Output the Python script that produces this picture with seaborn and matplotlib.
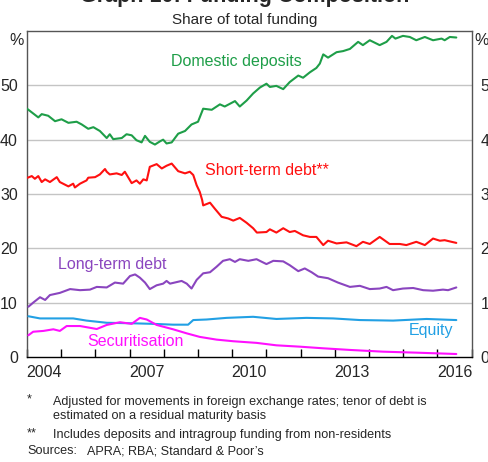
import matplotlib
matplotlib.use("Agg")
import matplotlib.pyplot as plt
import matplotlib.transforms as mtransforms
import seaborn as sns

# Data (share of total funding, %); x in decimal years
dd_t = [2004.00, 2004.33, 2004.43, 2004.62, 2004.82, 2005.01, 2005.21, 2005.45, 2005.60, 2005.79,
        2005.94, 2006.13, 2006.33, 2006.42, 2006.52, 2006.77, 2006.91, 2007.06, 2007.20, 2007.35,
        2007.45, 2007.59, 2007.74, 2007.89, 2007.98, 2008.08, 2008.23, 2008.42, 2008.62, 2008.81,
        2009.00, 2009.15, 2009.40, 2009.64, 2009.78, 2010.08, 2010.22, 2010.42, 2010.61, 2010.81,
        2011.00, 2011.10, 2011.29, 2011.49, 2011.68, 2011.93, 2012.07, 2012.27, 2012.46, 2012.56,
        2012.66, 2012.80, 2013.05, 2013.24, 2013.44, 2013.68, 2013.82, 2014.02, 2014.31, 2014.51,
        2014.67, 2014.77, 2014.99, 2015.19, 2015.38, 2015.63, 2015.87, 2016.12, 2016.21, 2016.36,
        2016.55]
dd_v = [45.7, 44.1, 44.7, 44.4, 43.4, 43.75, 43.1, 43.3, 42.8, 42.0,
        42.3, 41.6, 40.3, 41.0, 40.1, 40.3, 41.0, 40.8, 39.9, 39.5,
        40.7, 39.6, 39.1, 39.7, 40.0, 39.3, 39.5, 41.1, 41.6, 42.8,
        43.3, 45.7, 45.5, 46.5, 46.1, 47.1, 46.1, 47.2, 48.5, 49.6,
        50.3, 49.7, 49.9, 49.3, 50.6, 51.8, 51.4, 52.4, 53.2, 54.0,
        55.7, 55.1, 56.1, 56.3, 56.7, 58.0, 57.4, 58.3, 57.4, 58.0,
        59.1, 58.6, 59.1, 58.9, 58.3, 58.9, 58.3, 58.6, 58.3, 58.9,
        58.8]

st_t = [2004.02, 2004.14, 2004.23, 2004.33, 2004.43, 2004.53, 2004.67, 2004.87, 2004.96,
        2005.21, 2005.35, 2005.40, 2005.55, 2005.74, 2005.79, 2005.99,
        2006.13, 2006.28, 2006.33, 2006.42, 2006.62, 2006.77, 2006.86,
        2007.06, 2007.20, 2007.30, 2007.40, 2007.50, 2007.59, 2007.79, 2007.94,
        2008.08, 2008.23, 2008.42, 2008.62, 2008.76, 2008.86, 2008.96,
        2009.05, 2009.12, 2009.15, 2009.35, 2009.49, 2009.69, 2009.88,
        2010.03, 2010.22, 2010.42, 2010.61, 2010.72,
        2011.00, 2011.10, 2011.29, 2011.49, 2011.68, 2011.83,
        2012.07, 2012.27, 2012.46, 2012.66, 2012.80,
        2013.05, 2013.34, 2013.63, 2013.82,
        2014.02, 2014.31, 2014.60, 2014.90,
        2015.09, 2015.38, 2015.63, 2015.87,
        2016.07, 2016.21, 2016.41, 2016.55]
st_v = [33.0, 33.3, 32.8, 33.3, 32.2, 32.7, 32.2, 33.1, 32.2,
        31.4, 31.9, 31.2, 31.9, 32.5, 33.0, 33.1,
        33.6, 34.6, 34.1, 33.6, 33.8, 33.5, 34.1,
        32.0, 32.5, 31.9, 32.7, 32.5, 35.0, 35.5, 34.7,
        35.2, 35.6, 34.2, 33.8, 34.1, 33.5, 31.6,
        30.4, 28.9, 27.9, 28.4, 27.3, 25.8, 25.5,
        25.1, 25.6, 24.7, 23.7, 22.9,
        23.0, 23.5, 22.9, 23.7, 23.0, 23.2,
        22.4, 22.1, 22.1, 20.6, 21.4,
        20.9, 21.1, 20.4, 21.2,
        20.8, 22.1, 20.8, 20.8,
        20.6, 21.2, 20.6, 21.8,
        21.4, 21.5, 21.2, 21.0]

lt_t = [2004.04, 2004.18, 2004.38, 2004.53, 2004.67, 2004.96,
        2005.26, 2005.55, 2005.84,
        2006.04, 2006.33, 2006.57, 2006.81,
        2007.01, 2007.16, 2007.30, 2007.45, 2007.59, 2007.79, 2007.98,
        2008.08, 2008.18, 2008.52, 2008.67, 2008.81, 2008.96,
        2009.15, 2009.35, 2009.54, 2009.73, 2009.93,
        2010.08, 2010.22, 2010.47, 2010.71,
        2011.00, 2011.20, 2011.49, 2011.68, 2011.93,
        2012.12, 2012.32, 2012.51, 2012.80,
        2013.09, 2013.44, 2013.73,
        2014.02, 2014.31, 2014.51, 2014.70, 2014.99,
        2015.29, 2015.58, 2015.87,
        2016.16, 2016.31, 2016.55]
lt_v = [9.25, 10.0, 11.0, 10.5, 11.4, 11.8,
        12.5, 12.3, 12.4,
        12.9, 12.8, 13.7, 13.5,
        14.9, 15.2, 14.6, 13.7, 12.5, 13.2, 13.5,
        14.0, 13.5, 14.0, 13.5, 12.6, 14.2,
        15.4, 15.6, 16.6, 17.7, 18.0,
        17.5, 18.0, 17.7, 18.0,
        17.1, 17.7, 17.6, 16.9, 15.8,
        16.3, 15.6, 14.8, 14.5,
        13.7, 12.9, 13.1,
        12.5, 12.6, 12.9, 12.3, 12.6,
        12.7, 12.3, 12.2,
        12.4, 12.3, 12.8]

eq_t = [2004.04, 2004.38, 2004.96, 2005.35, 2005.74, 2006.33, 2007.11, 2007.69, 2008.27, 2008.71,
        2008.86, 2009.25, 2009.83, 2010.61, 2011.29, 2012.17, 2012.95, 2013.73, 2014.70, 2015.68,
        2016.55]
eq_v = [7.5, 7.1, 7.1, 7.1, 6.7, 6.3, 6.2, 6.1, 5.95, 5.95,
        6.8, 6.9, 7.2, 7.4, 7.0, 7.2, 7.1, 6.8, 6.7, 7.0,
        6.8]

se_t = [2004.04, 2004.18, 2004.48, 2004.77, 2004.96, 2005.16, 2005.55, 2006.04, 2006.33, 2006.72,
        2007.06, 2007.30, 2007.50, 2007.79, 2008.27, 2008.67, 2009.05, 2009.54, 2010.03, 2010.71,
        2011.29, 2011.98, 2012.66, 2013.44, 2014.41, 2015.38, 2016.55]
se_v = [4.0, 4.65, 4.8, 5.1, 4.8, 5.7, 5.7, 5.15, 5.9, 6.4,
        6.1, 7.2, 6.9, 5.9, 5.1, 4.35, 3.7, 3.2, 2.9, 2.6,
        2.15, 1.9, 1.6, 1.3, 0.98, 0.8, 0.55]

year_labels = ["2004", "2007", "2010", "2013", "2016"]
y_ticks = [0, 10, 20, 30, 40, 50]

sns.set_style("white")
plt.rcParams['font.family'] = ['Liberation Sans', 'DejaVu Sans']

fig = plt.figure(figsize=(4.89, 4.62), dpi=100)
ax = fig.add_axes([27 / 489, 1 - 357 / 462, (471.7 - 27) / 489, (357 - 31) / 462])

# gridlines first so the lines sit on top
for g in y_ticks[1:]:
    ax.axhline(g, color="#c4c4c4", lw=1.0, zorder=0)

series = [
    (dd_t, dd_v, "#1e9e48"),
    (st_t, st_v, "#ff1010"),
    (lt_t, lt_v, "#8a45bf"),
    (eq_t, eq_v, "#22a0e4"),
    (se_t, se_v, "#ff10ff"),
]
for t, v, c in series:
    sns.lineplot(x=t, y=v, ax=ax, color=c, linewidth=1.5, sort=False, zorder=3)

ax.set_xlim(2004, 2017)
ax.set_ylim(0, 60)

# series labels
lab_kw = dict(fontsize=11.5, ha="center", va="center")
ax.text(2010.11, 54.3, "Domestic deposits", color="#1e9e48", **lab_kw)
ax.text(2011.0, 34.4, "Short-term debt**", color="#ff1010", **lab_kw)
ax.text(2006.48, 17.1, "Long-term debt", color="#8a45bf", **lab_kw)
ax.text(2015.82, 4.8, "Equity", color="#22a0e4", **lab_kw)
ax.text(2007.16, 2.85, "Securitisation", color="#ff10ff", **lab_kw)

# x axis: tick marks on year boundaries, labels at mid-year
ax.set_xticks(range(2004, 2018))
ax.set_xticklabels([])
ax.set_xticks([int(y) + 0.5 for y in year_labels], minor=True)
ax.set_xticklabels(year_labels, minor=True)
ax.tick_params(axis="x", which="major", direction="in", length=6, width=1, color="black", bottom=True)
ax.tick_params(axis="x", which="minor", length=0, pad=6, labelsize=11.5)

# y axis labels on both sides, no tick marks (right ones run off the edge as in the original)
ax.set_yticks(y_ticks)
ax.set_yticklabels([str(v) for v in y_ticks])
ax.tick_params(axis="y", left=False, right=False, labelleft=True, labelright=True,
               pad=3, labelsize=11.5)
ytrans = mtransforms.blended_transform_factory(ax.transAxes, ax.transData)
ax.text(-0.007, 59.7, "%", transform=ytrans, ha="right", va="top", fontsize=11.5)
ax.text(1.005, 59.7, "%", transform=ytrans, ha="left", va="top", fontsize=11.5)

for side in ["left", "right", "top"]:
    ax.spines[side].set_color("#555555")
    ax.spines[side].set_linewidth(1.0)
ax.spines["bottom"].set_color("black")
ax.spines["bottom"].set_linewidth(1.0)
ax.set_xlabel("")
ax.set_ylabel("")

# titles
fig.text(0.5, 1 - 2 / 462, "Graph 10: Funding Composition", ha="center", va="baseline",
         fontsize=15.5, fontweight="bold")
fig.text(0.5, 1 - 24 / 462, "Share of total funding", ha="center", va="baseline", fontsize=11)

# footnotes
fn = dict(fontsize=9.1, va="center", ha="left")
fig.text(27 / 489, 1 - 399 / 462, "*", **fn)
fig.text(53 / 489, 1 - 401.5 / 462,
         "Adjusted for movements in foreign exchange rates; tenor of debt is", **fn)
fig.text(53 / 489, 1 - 416.5 / 462, "estimated on a residual maturity basis", **fn)
fig.text(27 / 489, 1 - 433 / 462, "**", **fn)
fig.text(53 / 489, 1 - 435 / 462, "Includes deposits and intragroup funding from non-residents", **fn)
fig.text(27 / 489, 1 - 451 / 462, "Sources:", **fn)
fig.text(87 / 489, 1 - 451 / 462, "APRA; RBA; Standard & Poor\u2019s", **fn)

fig.savefig("out.png", dpi=100)
